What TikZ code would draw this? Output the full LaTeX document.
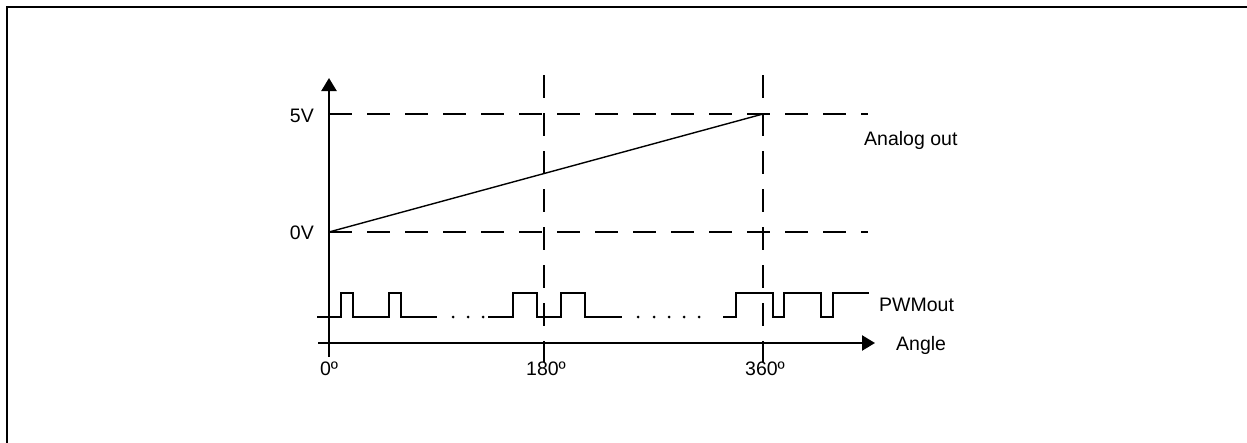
\documentclass[tikz,border=0pt]{standalone}
\usepackage{fontspec}
\setmainfont{Liberation Sans}
\usetikzlibrary{arrows.meta}
\begin{document}
\begin{tikzpicture}[x=1pt,y=-1pt,
  axisline/.style={line width=2.4pt,-{Triangle[length=13pt,width=15pt]}},
  guide/.style={line width=2.4pt,dash pattern=on 23pt off 15pt},
  signal/.style={line width=1.8pt,line join=miter},
  ramp/.style={line width=1.4pt},
  lbl/.style={font=\fontsize{19.5}{23}\selectfont,inner sep=0pt},
  dotmark/.style={circle,fill=black,inner sep=0pt,minimum size=3pt}
]
\clip (0,0) rectangle (1247,442);
\fill[white] (0,0) rectangle (1247,442);
\draw[line width=2.6pt] (7,7) rectangle (1280,480);

% coordinates
\coordinate (xs) at (318,343);
\coordinate (xe) at (875,343);
\coordinate (ys) at (329,357);
\coordinate (ye) at (329,78);
\coordinate (v5s) at (329,114);
\coordinate (v5e) at (868,114);
\coordinate (v0s) at (329,232);
\coordinate (v0e) at (868,232);
\coordinate (m180t) at (544,75);
\coordinate (m180b) at (544,362);
\coordinate (m360t) at (763,75);
\coordinate (m360b) at (763,362);

% guides
\draw[guide] (v5s) -- (v5e);
\draw[guide] (v0s) -- (v0e);
\draw[guide] (m180t) -- (m180b);
\draw[guide] (m360t) -- (m360b);

% axes
\draw[axisline] (xs) -- (xe);
\draw[axisline] (ys) -- (ye);

% ramp
\draw[ramp] (v0s) -- (763,114);

% PWM
\draw[signal] (317,317) -- (341,317) -- (341,293) -- (353,293) -- (353,317)
  -- (389,317) -- (389,293) -- (401,293) -- (401,317) -- (437,317);
\draw[signal] (488,317) -- (513,317) -- (513,293) -- (537,293) -- (537,317)
  -- (561,317) -- (561,293) -- (585,293) -- (585,317) -- (622,317);
\draw[signal] (723,317) -- (736,317) -- (736,293) -- (773,293) -- (773,317)
  -- (784,317) -- (784,293) -- (821,293) -- (821,317) -- (833,317)
  -- (833,293) -- (869,293);
\foreach \i/\x in {1/453,2/468,3/483,4/638,5/654,6/669,7/684,8/699}
  \node[dotmark] (d\i) at (\x,317) {};

% labels
\node[lbl,anchor=east] (l5) at (314,116) {5V};
\node[lbl,anchor=east] (l0) at (314,233) {0V};
\node[lbl,anchor=west] (la) at (864,140) {Analog out};
\node[lbl,anchor=west] (lp) at (879,305) {PWMout};
\node[lbl,anchor=west] (lg) at (896,345) {Angle};
\node[lbl] (t0) at (329,369) {0º};
\node[lbl] (t180) at (546,369) {180º};
\node[lbl] (t360) at (765,369) {360º};
\end{tikzpicture}
\end{document}
